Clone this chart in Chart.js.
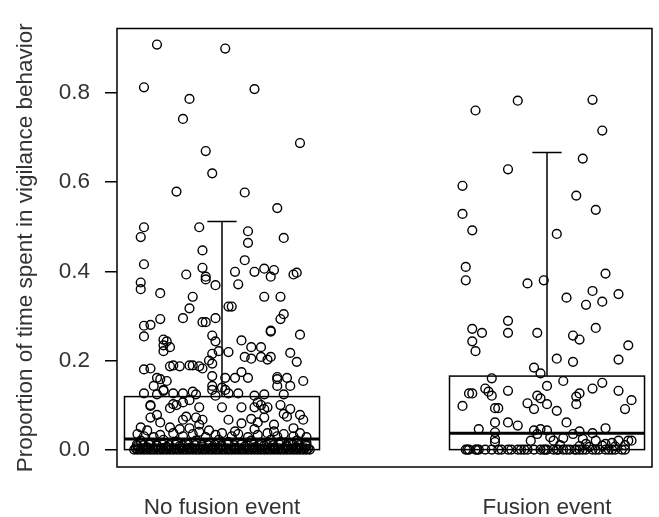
<!DOCTYPE html>
<html>
<head>
<meta charset="utf-8">
<script src="https://cdn.jsdelivr.net/npm/chart.js@4/dist/chart.umd.min.js"></script>
<style>
  body { margin: 0; background: #fff; }
  canvas { display: block; }
</style>
</head>
<body>
<canvas id="grafico" width="659" height="517"></canvas>
<script>
/* Dados */
var categorias = ['No fusion event', 'Fusion event'];
var yTicks = [0, 0.2, 0.4, 0.6, 0.8];

/* boxplot: quartis e bigodes */
var boxQ1      = [0, 0];
var boxMediana = [0.024, 0.037];
var boxQ3      = [0.119, 0.165];
var bigodeSup  = [0.512, 0.667];

/* pontos: [deslocamento horizontal (jitter), proporcao] */
var pontosSemFusao = [
  [-0.20,0.909],[0.01,0.900],[-0.24,0.813],[0.10,0.809],[-0.10,0.787],[-0.12,0.742],[0.24,0.688],[-0.05,0.670],
  [-0.03,0.620],[-0.14,0.579],[0.07,0.577],[0.17,0.542],[-0.24,0.499],[-0.07,0.499],[-0.25,0.477],[0.08,0.490],
  [0.08,0.464],[0.19,0.475],[-0.06,0.447],[0.07,0.425],
  [-0.24,0.416],[-0.06,0.408],[0.04,0.399],[-0.11,0.393],[0.10,0.399],[0.13,0.406],[0.16,0.403],[0.23,0.397],
  [0.22,0.393],[-0.05,0.388],[0.15,0.388],[-0.25,0.375],[-0.25,0.360],[-0.05,0.382],[-0.02,0.369],[0.05,0.371],
  [-0.19,0.351],[-0.09,0.343],[0.13,0.343],[0.18,0.343],[0.02,0.321],[0.03,0.321],[-0.10,0.317],[0.19,0.304],
  [0.18,0.293],[-0.19,0.293],[-0.12,0.295],[-0.02,0.295],[-0.06,0.286],[-0.05,0.286],[-0.24,0.278],[-0.22,0.280],
  [0.15,0.267],[0.15,0.265],[-0.24,0.254],[0.24,0.258],[-0.03,0.256],[-0.18,0.247],[-0.17,0.243],[-0.02,0.243],
  [0.06,0.245],[-0.18,0.234],[-0.16,0.230],[0.09,0.230],[0.12,0.230],[-0.18,0.221],[0.02,0.219],[-0.01,0.221],
  [-0.03,0.215],[0.07,0.208],[0.09,0.204],[0.12,0.208],[0.15,0.208],[0.14,0.202],[0.21,0.217],[0.23,0.197],
  [-0.04,0.200],
  [-0.15,0.189],[-0.13,0.187],[-0.10,0.189],[-0.09,0.189],[-0.07,0.187],[-0.06,0.182],[-0.03,0.193],
  [-0.24,0.180],[-0.22,0.182],[-0.16,0.187],
  [-0.20,0.161],[-0.19,0.158],[-0.17,0.154],[-0.03,0.165],[0.01,0.161],[0.04,0.161],[0.06,0.174],[0.08,0.161],
  [0.17,0.158],[0.17,0.163],[0.20,0.161],[0.25,0.154],
  [-0.21,0.143],[-0.18,0.134],[-0.03,0.143],[0.00,0.139],[0.17,0.143],[0.21,0.143],[0.19,0.124],
  [-0.24,0.126],[-0.20,0.124],[-0.18,0.132],[-0.15,0.126],[-0.12,0.126],[-0.09,0.130],[-0.08,0.124],
  [-0.02,0.121],[0.02,0.126],[0.05,0.126],[0.10,0.121],[0.13,0.124],[-0.03,0.134],[0.01,0.134],
  [-0.22,0.100],[-0.15,0.102],[-0.14,0.100],[-0.12,0.106],[-0.10,0.111],[0.00,0.095],[0.06,0.095],[0.11,0.106],
  [0.12,0.100],[0.14,0.095],[0.18,0.100],[0.21,0.091],
  [-0.22,0.098],[-0.16,0.093],[-0.07,0.095],[0.10,0.095],[0.13,0.091],[0.19,0.080],
  [-0.22,0.072],[-0.19,0.061],[-0.20,0.078],[-0.12,0.067],[-0.11,0.074],[-0.08,0.072],[-0.06,0.067],[-0.07,0.056],
  [0.02,0.067],[0.06,0.059],[0.09,0.069],[0.11,0.061],[0.13,0.072],[0.16,0.056],[0.20,0.074],[0.24,0.078],[0.25,0.067],
  [-0.25,0.050],[-0.23,0.043],[-0.16,0.050],[-0.13,0.046],[-0.10,0.048],[-0.04,0.043],[0.04,0.041],[0.10,0.046],
  [0.16,0.041],[0.22,0.048],
  [-0.26,0.035],[-0.24,0.030],[-0.21,0.028],[-0.19,0.033],[-0.15,0.037],[-0.12,0.030],[-0.09,0.035],[-0.07,0.040],
  [-0.05,0.028],[-0.02,0.033],[0.00,0.037],[0.03,0.030],[0.05,0.035],[0.08,0.028],[0.11,0.033],[0.14,0.037],
  [0.17,0.030],[0.19,0.035],[0.22,0.030],[0.24,0.037],[0.26,0.028],
  [-0.25,0.020],[-0.22,0.015],[-0.18,0.022],[-0.14,0.018],[-0.11,0.013],[-0.08,0.020],[-0.04,0.015],[-0.01,0.022],
  [0.02,0.017],[0.06,0.013],[0.09,0.020],[0.12,0.015],[0.15,0.022],[0.18,0.017],[0.21,0.013],[0.23,0.020],[0.26,0.015],
  [-0.26,0.008],[-0.23,0.005],[-0.20,0.009],[-0.17,0.006],[-0.13,0.008],[-0.10,0.004],[-0.06,0.007],[-0.03,0.005],
  [0.00,0.008],[0.04,0.004],[0.07,0.007],[0.10,0.005],[0.13,0.009],[0.16,0.004],[0.20,0.007],[0.23,0.005],[0.26,0.008],
  [-0.27,0],[-0.26,0],[-0.25,0],[-0.24,0],[-0.23,0],[-0.22,0],[-0.21,0],[-0.20,0],[-0.19,0],[-0.18,0],[-0.17,0],
  [-0.16,0],[-0.15,0],[-0.14,0],[-0.13,0],[-0.12,0],[-0.11,0],[-0.10,0],[-0.09,0],[-0.08,0],[-0.07,0],[-0.06,0],
  [-0.05,0],[-0.04,0],[-0.03,0],[-0.02,0],[-0.01,0],[0.00,0],[0.01,0],[0.02,0],[0.03,0],[0.04,0],[0.05,0],
  [0.06,0],[0.07,0],[0.08,0],[0.09,0],[0.10,0],[0.11,0],[0.12,0],[0.13,0],[0.14,0],[0.15,0],[0.16,0],[0.17,0],
  [0.18,0],[0.19,0],[0.20,0],[0.21,0],[0.22,0],[0.23,0],[0.24,0],[0.25,0],[0.26,0],[0.27,0],
  [-0.265,0.003],[-0.255,0.002],[-0.245,0.003],[-0.235,0.002],[-0.225,0.003],[-0.215,0.002],[-0.205,0.003],
  [-0.195,0.002],[-0.185,0.003],[-0.175,0.002],[-0.165,0.003],[-0.155,0.002],[-0.145,0.003],[-0.135,0.002],
  [-0.125,0.003],[-0.115,0.002],[-0.105,0.003],[-0.095,0.002],[-0.085,0.003],[-0.075,0.002],[-0.065,0.003],
  [-0.055,0.002],[-0.045,0.003],[-0.035,0.002],[-0.025,0.003],[-0.015,0.002],[-0.005,0.003],[0.005,0.002],
  [0.015,0.003],[0.025,0.002],[0.035,0.003],[0.045,0.002],[0.055,0.003],[0.065,0.002],[0.075,0.003],
  [0.085,0.002],[0.095,0.003],[0.105,0.002],[0.115,0.003],[0.125,0.002],[0.135,0.003],[0.145,0.002],
  [0.155,0.003],[0.165,0.002],[0.175,0.003],[0.185,0.002],[0.195,0.003],[0.205,0.002],[0.215,0.003],
  [0.225,0.002],[0.235,0.003],[0.245,0.002],[0.255,0.003],[0.265,0.002],
  [-0.262,0.011],[-0.242,0.010],[-0.222,0.011],[-0.202,0.010],[-0.182,0.011],[-0.162,0.010],[-0.142,0.011],
  [-0.122,0.010],[-0.102,0.011],[-0.082,0.010],[-0.062,0.011],[-0.042,0.010],[-0.022,0.011],[-0.002,0.010],
  [0.018,0.011],[0.038,0.010],[0.058,0.011],[0.078,0.010],[0.098,0.011],[0.118,0.010],[0.138,0.011],
  [0.158,0.010],[0.178,0.011],[0.198,0.010],[0.218,0.011],[0.238,0.010],[0.258,0.011]
];

var pontosFusao = [
  [-0.22,0.761],[-0.09,0.783],[0.14,0.785],[0.17,0.716],[0.11,0.653],[-0.12,0.629],[-0.26,0.592],[0.09,0.570],
  [0.15,0.538],[-0.26,0.529],[-0.23,0.492],[0.03,0.484],
  [-0.25,0.410],[-0.25,0.380],[-0.06,0.373],[-0.01,0.380],[0.18,0.395],[0.14,0.356],[0.22,0.349],[0.06,0.341],
  [0.17,0.332],[0.12,0.325],[-0.12,0.289],[-0.23,0.271],[-0.20,0.262],[-0.12,0.262],[-0.03,0.262],[0.15,0.273],
  [0.08,0.256],[0.10,0.247],[-0.23,0.243],[-0.22,0.221],[0.25,0.234],[0.03,0.204],[0.08,0.197],[0.22,0.202],
  [-0.04,0.184],[-0.02,0.171],[-0.17,0.160],[0.05,0.154],[0.00,0.143],[0.17,0.150],[0.14,0.137],[-0.19,0.137],
  [-0.18,0.130],[-0.12,0.132],[-0.24,0.126],[-0.23,0.126],[-0.17,0.121],[0.22,0.132],[0.10,0.126],[0.09,0.119],
  [-0.03,0.121],[-0.02,0.115],[0.26,0.111],[0.09,0.102],[-0.06,0.104],[0.00,0.102],[-0.26,0.098],[-0.16,0.093],
  [-0.15,0.093],[-0.04,0.091],[0.24,0.091],[0.03,0.087],
  [-0.16,0.061],[-0.12,0.061],[-0.09,0.054],[0.06,0.061],[-0.21,0.046],[-0.16,0.039],[-0.04,0.043],[-0.02,0.046],
  [0.00,0.043],[0.10,0.041],[0.14,0.037],[0.18,0.048],
  [-0.16,0.024],[-0.16,0.017],[-0.05,0.020],[-0.03,0.035],[0.01,0.028],[0.02,0.020],[0.05,0.026],[0.08,0.035],
  [0.11,0.024],[0.12,0.013],[0.15,0.020],[0.18,0.013],[0.20,0.015],[0.22,0.020],[0.25,0.020],[0.26,0.020],
  [0.04,0.010],[0.10,0.008],[0.13,0.006],[0.17,0.009],[0.21,0.007],[0.24,0.010],
  [-0.25,0],[-0.24,0],[-0.22,0],[-0.21,0],[-0.19,0],[-0.17,0],[-0.15,0],[-0.14,0],[-0.12,0],[-0.11,0],[-0.09,0],
  [-0.07,0],[-0.06,0],[-0.04,0],[-0.02,0],[-0.01,0],[0.00,0],[0.02,0],[0.03,0],[0.05,0],[0.06,0],[0.07,0],
  [0.09,0],[0.10,0],[0.12,0],[0.14,0],[0.16,0],[0.19,0],[0.20,0],[0.21,0],[0.23,0],[0.24,0],
  [-0.245,0],[-0.215,0],[-0.08,0],[-0.005,0],[0.035,0],[0.085,0],[0.11,0],[0.15,0],[0.18,0]
];

var corTexto = '#333333';
var fonte = { family: 'Liberation Sans, Arial, sans-serif', size: 22.5 };

function montaPontos(lista, posicao) {
  return lista.map(function (p) { return { x: posicao + p[0], y: p[1] }; });
}

/* Plugin: moldura e boxplot desenhados pelas escalas */
var boxplotPlugin = {
  id: 'boxplot',
  beforeDatasetsDraw: function (chart) {
    var ctx = chart.ctx, xs = chart.scales.x, ys = chart.scales.y;
    ctx.save();
    ctx.strokeStyle = '#000';
    for (var i = 0; i < categorias.length; i++) {
      var c = i + 1;
      var xl = xs.getPixelForValue(c - 0.30), xr = xs.getPixelForValue(c + 0.30);
      var xc = xs.getPixelForValue(c);
      var cl = xs.getPixelForValue(c - 0.045), cr = xs.getPixelForValue(c + 0.045);
      var y1 = ys.getPixelForValue(boxQ1[i]), y3 = ys.getPixelForValue(boxQ3[i]);
      var ym = ys.getPixelForValue(boxMediana[i]), yw = ys.getPixelForValue(bigodeSup[i]);
      ctx.lineWidth = 1.5;
      ctx.strokeRect(xl, y3, xr - xl, y1 - y3);
      ctx.beginPath();
      ctx.moveTo(xc, y3); ctx.lineTo(xc, yw);
      ctx.moveTo(cl, yw); ctx.lineTo(cr, yw);
      ctx.stroke();
      ctx.lineWidth = 3;
      ctx.beginPath();
      ctx.moveTo(xl, ym); ctx.lineTo(xr, ym);
      ctx.stroke();
    }
    ctx.restore();
  },
  afterDraw: function (chart) {
    var a = chart.chartArea, ctx = chart.ctx;
    ctx.save();
    ctx.strokeStyle = '#000';
    ctx.lineWidth = 1.5;
    ctx.strokeRect(a.left, a.top, a.right - a.left, a.bottom - a.top);
    ctx.restore();
  }
};

var grafico = new Chart(document.getElementById('grafico').getContext('2d'), {
  type: 'scatter',
  data: {
    datasets: [
      { data: montaPontos(pontosSemFusao, 1) },
      { data: montaPontos(pontosFusao, 2) }
    ]
  },
  options: {
    responsive: false,
    animation: false,
    layout: { padding: { top: 13, right: 7, left: 0, bottom: 0 } },
    plugins: { legend: { display: false }, tooltip: { enabled: false } },
    elements: {
      point: { radius: 4.4, borderWidth: 1.4, borderColor: '#000', backgroundColor: 'rgba(0,0,0,0)' }
    },
    datasets: { scatter: { clip: false } },
    scales: {
      x: {
        type: 'linear',
        min: 0.677,
        max: 2.323,
        afterBuildTicks: function (s) { s.ticks = categorias.map(function (c, i) { return { value: i + 1 }; }); },
        afterFit: function (s) { s.height = 50; },
        grid: { display: false },
        border: { display: false },
        ticks: {
          padding: 19,
          color: corTexto,
          font: fonte,
          maxRotation: 0,
          callback: function (v) { return categorias[Math.round(v) - 1]; }
        }
      },
      y: {
        min: -0.039,
        max: 0.945,
        afterBuildTicks: function (s) { s.ticks = yTicks.map(function (v) { return { value: v }; }); },
        afterFit: function (s) { s.width = 117; },
        grid: { drawOnChartArea: false, drawTicks: true, tickLength: 12, color: '#000', lineWidth: 1.5 },
        border: { display: false },
        ticks: {
          padding: 15,
          color: corTexto,
          font: fonte,
          callback: function (v) { return v.toFixed(1); }
        },
        title: {
          display: true,
          text: 'Proportion of time spent in vigilance behavior',
          color: corTexto,
          font: fonte,
          padding: { top: 12, bottom: 0 }
        }
      }
    }
  },
  plugins: [boxplotPlugin]
});
</script>
</body>
</html>
